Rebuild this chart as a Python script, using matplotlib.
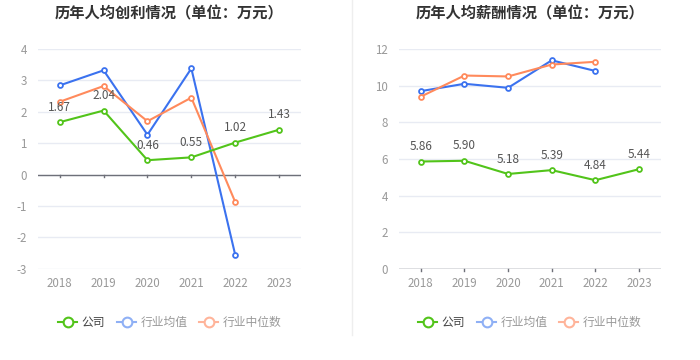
import matplotlib.pyplot as plt
from matplotlib.lines import Line2D

plt.rcParams['font.family'] = ['Noto Sans CJK SC', 'DejaVu Sans']

years = ["2018", "2019", "2020", "2021", "2022", "2023"]

# 人均创利
profit_company = [1.67, 2.04, 0.46, 0.55, 1.02, 1.43]
profit_avg = [2.84, 3.32, 1.27, 3.38, -2.55]
profit_median = [2.32, 2.82, 1.70, 2.45, -0.87]

# 人均薪酬
salary_company = [5.86, 5.90, 5.18, 5.39, 4.84, 5.44]
salary_avg = [9.70, 10.10, 9.88, 11.38, 10.80]
salary_median = [9.40, 10.55, 10.50, 11.15, 11.30]

GREEN = "#52c41a"
BLUE = "#3b72ef"
ORANGE = "#ff8a5c"
GRID = "#e8ebf3"
TICK = "#999999"

fig = plt.figure(figsize=(7, 3.6), dpi=100)


def draw_panel(ax, title, company, avg, median, ylim, yticks, label_off):
    x = list(range(len(years)))
    ax.plot(x[:len(avg)], avg, color=BLUE, lw=1.5, marker="o", ms=3.5,
            mfc="white", mec=BLUE, mew=1.3, zorder=3)
    ax.plot(x[:len(median)], median, color=ORANGE, lw=1.5, marker="o", ms=3.5,
            mfc="white", mec=ORANGE, mew=1.3, zorder=3)
    ax.plot(x, company, color=GREEN, lw=1.5, marker="o", ms=3.5,
            mfc="white", mec=GREEN, mew=1.3, zorder=4)
    for xi, v in zip(x, company):
        ax.annotate(f"{v:.2f}", (xi, v), xytext=(0, label_off),
                    textcoords="offset points", ha="center", va="bottom",
                    fontsize=8.5, color="#555555", zorder=5)
    ax.set_xlim(-0.5, len(years) - 0.5)
    ax.set_ylim(*ylim)
    ax.set_yticks(yticks)
    ax.set_yticklabels([str(t) for t in yticks])
    ax.set_xticks(x)
    ax.set_xticklabels(years)
    ax.grid(axis="y", color=GRID, lw=1)
    ax.set_axisbelow(True)
    for s in ["top", "right", "left", "bottom"]:
        ax.spines[s].set_visible(False)
    ax.axhline(0, color="#6e7079", lw=1, zorder=2)
    ax.tick_params(axis="y", length=0, colors=TICK, labelsize=8.3, pad=8)
    ax.tick_params(axis="x", length=0, colors=TICK, labelsize=8.3, pad=6)
    ax.set_title(title, fontsize=11, fontweight="bold", color="#333333", pad=22)


ax1 = fig.add_axes([0.054, 0.253, 0.376, 0.611])
draw_panel(ax1, "历年人均创利情况（单位：万元）", profit_company, profit_avg,
           profit_median, (-3, 4), [4, 3, 2, 1, 0, -1, -2, -3], 6)
for xi in range(len(years)):
    ax1.plot([xi, xi], [0, -0.08], color="#6e7079", lw=1, clip_on=False)

ax2 = fig.add_axes([0.570, 0.253, 0.374, 0.611])
draw_panel(ax2, "历年人均薪酬情况（单位：万元）", salary_company, salary_avg,
           salary_median, (0, 12), [0, 2, 4, 6, 8, 10, 12], 6)
for xi in range(len(years)):
    ax2.plot([xi, xi], [0, -0.14], color="#6e7079", lw=1, clip_on=False)

# separator line
fig.add_artist(Line2D([352 / 700, 352 / 700], [0.07, 1.0], color="#eeeeee", lw=1))


def legend_at(cx):
    handles = [
        Line2D([], [], color=GREEN, lw=1.5, marker="o", ms=7, mfc="white", mec=GREEN, mew=1.5),
        Line2D([], [], color="#8fb0f5", lw=1.5, marker="o", ms=7, mfc="white", mec="#8fb0f5", mew=1.5),
        Line2D([], [], color="#ffb49a", lw=1.5, marker="o", ms=7, mfc="white", mec="#ffb49a", mew=1.5),
    ]
    leg = fig.legend(handles, ["公司", "行业均值", "行业中位数"], loc="center",
                     bbox_to_anchor=(cx, 0.103), ncol=3, frameon=False,
                     fontsize=8.5, handlelength=1.6, handletextpad=0.4,
                     columnspacing=1.0)
    cols = ["#444444", "#999999", "#999999"]
    for t, c in zip(leg.get_texts(), cols):
        t.set_color(c)


legend_at(170 / 700)
legend_at(530 / 700)

fig.savefig("out.png", dpi=100, facecolor="white")
